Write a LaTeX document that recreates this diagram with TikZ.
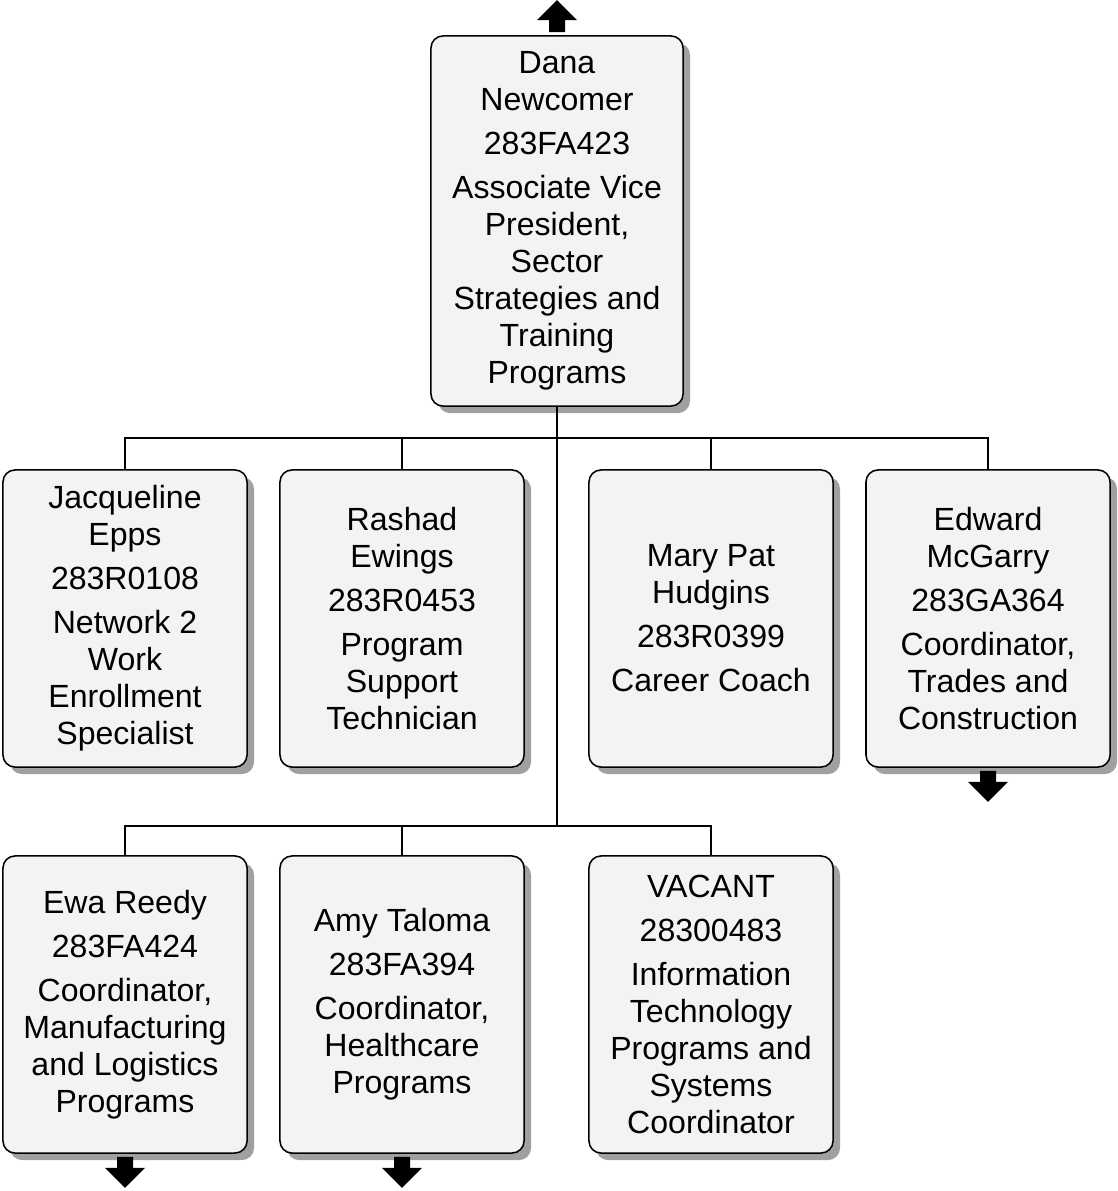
\documentclass[tikz,border=0pt]{standalone}
\usepackage{fontspec}
\setmainfont{Liberation Sans}
\usetikzlibrary{shadows, calc}

\definecolor{boxfill}{HTML}{F3F3F3}
\definecolor{shadowgray}{HTML}{A0A0A0}

\begin{document}
\begin{tikzpicture}[
  x=0.025cm, y=-0.025cm,
  % Define styles for the chart
  person/.style={draw, line width=1.1pt, rounded corners=0.3cm, fill=boxfill,
    drop shadow={shadow xshift=0.175cm, shadow yshift=-0.175cm, fill=shadowgray, opacity=1},
    align=center, inner sep=0pt, font=\fontsize{22.8}{26.3}\selectfont},
  headbox/.style={person, minimum width=6.3cm, minimum height=9.25cm},
  staffbox/.style={person, minimum width=6.1cm, minimum height=7.425cm},
  link/.style={line width=1.1pt},
  blockarrow/.style={fill=black}
]
\useasboundingbox (0,0) rectangle (1118,1191);

% Head of the unit
\node[headbox] (dnewcomer) at (557,221) {Dana\\ Newcomer\\[5pt] 283FA423\\[5pt] Associate Vice\\ President,\\ Sector\\ Strategies and\\ Training\\ Programs};

% Row 1
\node[staffbox] (jepps) at (125,618.5) {Jacqueline\\ Epps\\[5pt] 283R0108\\[5pt] Network 2\\ Work\\ Enrollment\\ Specialist};
\node[staffbox] (rewings) at (402,618.5) {Rashad\\ Ewings\\[5pt] 283R0453\\[5pt] Program\\ Support\\ Technician};
\node[staffbox] (mhudgins) at (711,618.5) {Mary Pat\\ Hudgins\\[5pt] 283R0399\\[5pt] Career Coach};
\node[staffbox] (emcgarry) at (988,618.5) {Edward\\ McGarry\\[5pt] 283GA364\\[5pt] Coordinator,\\ Trades and\\ Construction};

% Row 2
\node[staffbox] (ereedy) at (125,1004.5) {Ewa Reedy\\[5pt] 283FA424\\[5pt] Coordinator,\\ Manufacturing\\ and Logistics\\ Programs};
\node[staffbox] (ataloma) at (402,1004.5) {Amy Taloma\\[5pt] 283FA394\\[5pt] Coordinator,\\ Healthcare\\ Programs};
\node[staffbox] (vacant) at (711,1004.5) {VACANT\\[5pt] 28300483\\[5pt] Information\\ Technology\\ Programs and\\ Systems\\ Coordinator};

% Bus lines
\coordinate (busA) at (557,438);
\coordinate (busB) at (557,826);

\draw[link] (dnewcomer.south) -- (busB);
\draw[link] (jepps.north) |- (busA);
\draw[link] (rewings.north) |- (busA);
\draw[link] (mhudgins.north) |- (busA);
\draw[link] (emcgarry.north) |- (busA);
\draw[link] (ereedy.north) |- (busB);
\draw[link] (ataloma.north) |- (busB);
\draw[link] (vacant.north) |- (busB);

% Off-page arrows
\fill[blockarrow] ($(dnewcomer.north)+(-8,-3)$) -- ++(0,-12) -- ++(-12,0) -- ++(20,-20) -- ++(20,20) -- ++(-12,0) -- ++(0,12) -- cycle;
\foreach \n in {emcgarry, ereedy, ataloma}
  \fill[blockarrow] ($(\n.south)+(-8,3)$) -- ++(0,11) -- ++(-12,0) -- ++(20,20) -- ++(20,-20) -- ++(-12,0) -- ++(0,-11) -- cycle;

\end{tikzpicture}
\end{document}
